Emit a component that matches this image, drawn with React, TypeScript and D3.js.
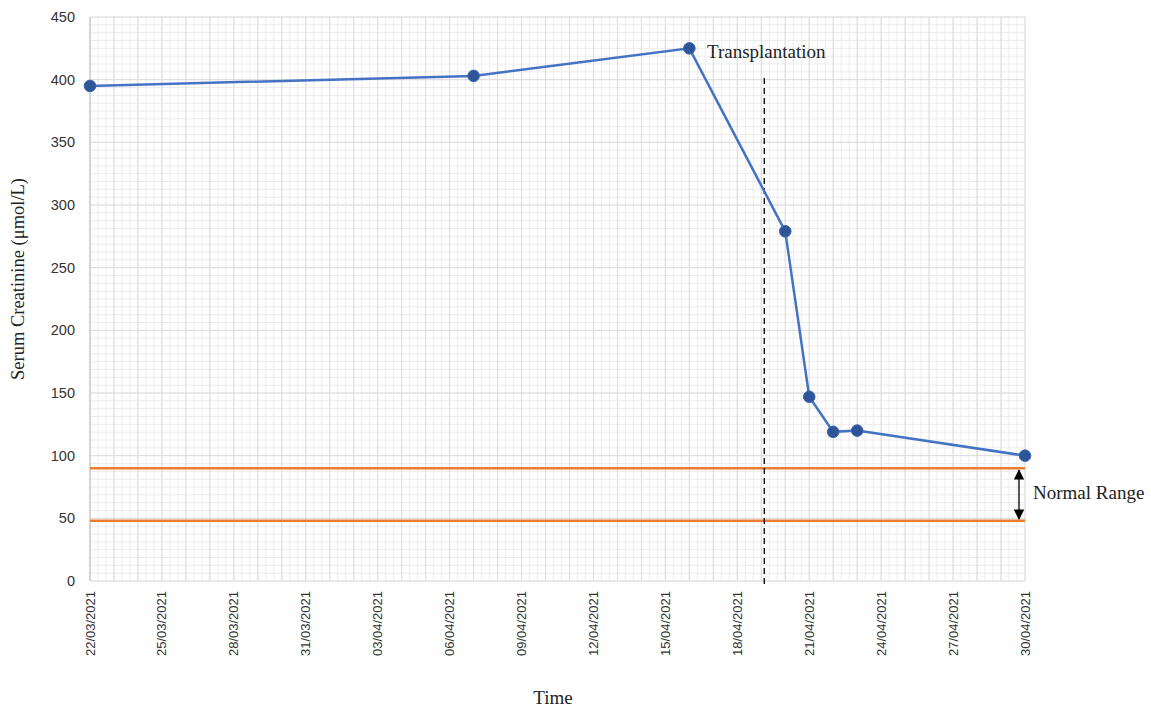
import React from "react";
import * as d3 from "d3";

const sampleDates = ["2021-03-22", "2021-04-07", "2021-04-16", "2021-04-20", "2021-04-21", "2021-04-22", "2021-04-23", "2021-04-30"];
const creatinine = [395, 403, 425, 279, 147, 119, 120, 100];
const normalRange = [90, 48];
const transplantDate = "2021-04-19T03:00:00Z";
const yTicks = [0, 50, 100, 150, 200, 250, 300, 350, 400, 450];
const xTickLabels = ["22/03/2021", "25/03/2021", "28/03/2021", "31/03/2021", "03/04/2021", "06/04/2021", "09/04/2021", "12/04/2021", "15/04/2021", "18/04/2021", "21/04/2021", "24/04/2021", "27/04/2021", "30/04/2021"];

const W = 1151, H = 711;
const left = 90, right = 1025, top = 17, bottom = 581;
const DAY = 86400000;

function parse(s: string) {
  return new Date(s + "T00:00:00Z");
}
function parseLabel(s: string) {
  const [d, m, y] = s.split("/");
  return new Date(`${y}-${m}-${d}T00:00:00Z`);
}

export default function App() {
  const x0 = parse("2021-03-22"), x1 = parse("2021-04-30");
  const x = d3.scaleUtc().domain([x0, x1]).range([left, right]);
  const y = d3.scaleLinear().domain([0, 450]).range([bottom, top]);

  const days = d3.utcDay.range(x0, new Date(+x1 + DAY));
  const thirds: number[] = [];
  for (let t = +x0; t <= +x1 + 1; t += DAY / 3) thirds.push(t);
  const hMinor: number[] = [];
  for (let v = 0; v <= 450.01; v += 6.25) hMinor.push(v);

  const pts = sampleDates.map((d, i) => [x(parse(d)), y(creatinine[i])] as [number, number]);
  const line = d3.line()(pts) || "";
  const tx = x(new Date(transplantDate));
  const serif = "'Liberation Serif', 'Times New Roman', serif";
  const sans = "'Liberation Sans', Arial, sans-serif";

  return (
    <svg width={W} height={H} style={{ position: "absolute", left: 0, top: 0, background: "#fff" }}>
      <g>
        {thirds.map((t, i) => (
          <line key={"vt" + i} x1={x(new Date(t))} x2={x(new Date(t))} y1={top} y2={bottom} stroke="#ececec" strokeWidth={1} />
        ))}
        {hMinor.map((v, i) => (
          <line key={"hm" + i} x1={left} x2={right} y1={y(v)} y2={y(v)} stroke="#ececec" strokeWidth={1} />
        ))}
        {days.map((d, i) => (
          <line key={"vd" + i} x1={x(d)} x2={x(d)} y1={top} y2={bottom} stroke="#dcdcdc" strokeWidth={1} />
        ))}
        {yTicks.map((v) => (
          <line key={"hy" + v} x1={left} x2={right} y1={y(v)} y2={y(v)} stroke="#dcdcdc" strokeWidth={1} />
        ))}
        <line x1={left} x2={left} y1={top} y2={bottom} stroke="#cfcfcf" strokeWidth={1.5} />
      </g>
      {normalRange.map((v) => (
        <line key={"nr" + v} x1={left} x2={right} y1={y(v)} y2={y(v)} stroke="#ed7d31" strokeWidth={2.5} />
      ))}
      <line x1={tx} x2={tx} y1={78} y2={585} stroke="#000" strokeWidth={1.3} strokeDasharray="6,4" />
      <path d={line} fill="none" stroke="#4472c4" strokeWidth={2.5} />
      {pts.map((p, i) => (
        <circle key={"p" + i} cx={p[0]} cy={p[1]} r={5.8} fill="#2e5597" stroke="#3a64b0" strokeWidth={1} />
      ))}
      {yTicks.map((v) => (
        <text key={"yt" + v} x={75} y={y(v)} dy="0.35em" textAnchor="end" fontFamily={sans} fontSize={14.5} fill="#333">{v}</text>
      ))}
      {xTickLabels.map((s) => {
        const px = x(parseLabel(s));
        return (
          <text key={s} transform={`translate(${px + 4.5},${591}) rotate(-90)`} textAnchor="end" fontFamily={sans} fontSize={13} fill="#333">{s}</text>
        );
      })}
      <text x={707} y={58} fontFamily={serif} fontSize={19} fill="#222">Transplantation</text>
      <defs>
        <marker id="ah" viewBox="0 0 10 10" refX="9" refY="5" markerWidth="8" markerHeight="8" orient="auto-start-reverse">
          <path d="M0,0 L10,5 L0,10 z" fill="#000" />
        </marker>
      </defs>
      <line x1={1019} x2={1019} y1={y(normalRange[0]) + 2} y2={y(normalRange[1]) - 2} stroke="#000" strokeWidth={1.3} markerStart="url(#ah)" markerEnd="url(#ah)" />
      <text x={1033} y={499} fontFamily={serif} fontSize={19} fill="#222">Normal Range</text>
      <text transform={`translate(24,${279}) rotate(-90)`} textAnchor="middle" fontFamily={serif} fontSize={18.5} fill="#222">Serum Creatinine (μmol/L)</text>
      <text x={553} y={704} textAnchor="middle" fontFamily={serif} fontSize={19} fill="#222">Time</text>
    </svg>
  );
}
